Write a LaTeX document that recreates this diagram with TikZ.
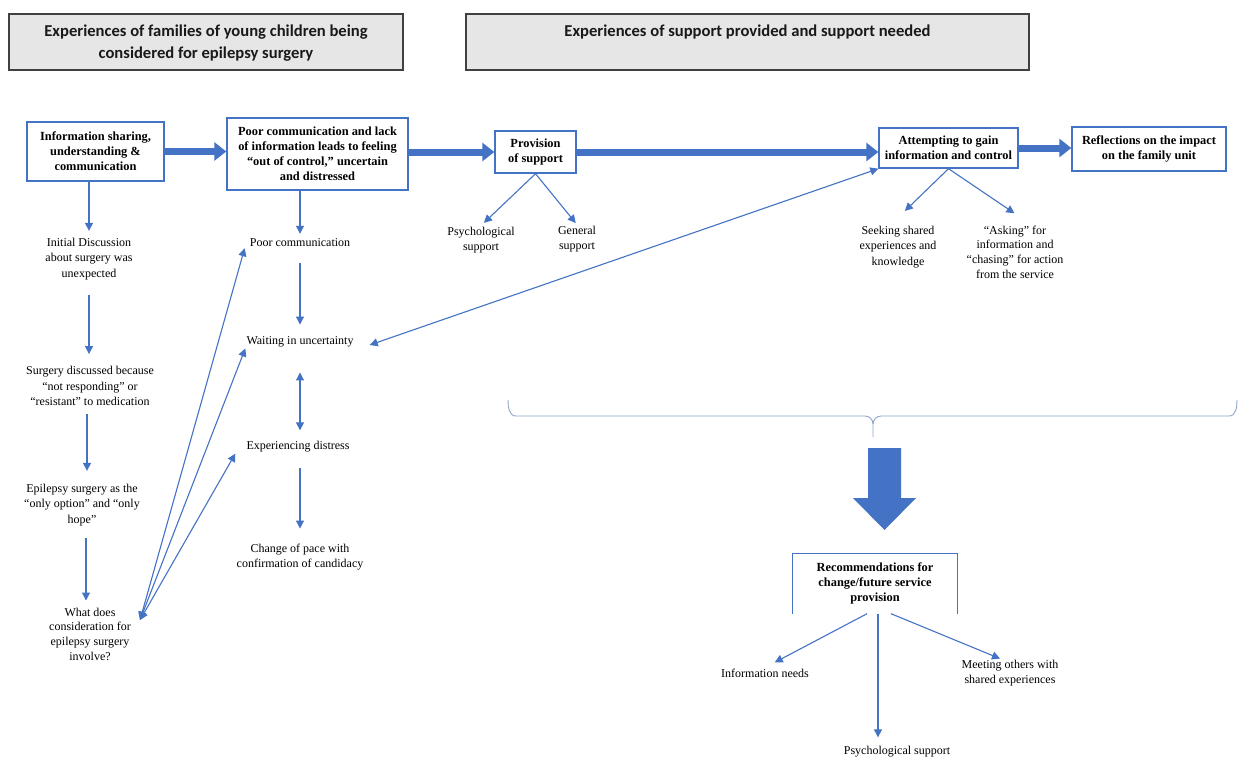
\documentclass[tikz,border=0pt]{standalone}
\usepackage{fontspec}
\setmainfont{Liberation Serif}
\newfontfamily\hdrfont{Carlito}
\usetikzlibrary{arrows.meta}
\definecolor{bblue}{HTML}{4472C4}
\definecolor{brc}{HTML}{8EA6CC}
\definecolor{hgray}{HTML}{E7E6E6}
\definecolor{hedge}{HTML}{404040}
\begin{document}
\begin{tikzpicture}[x=1pt,y=-1pt,
 hdrbox/.style={draw=hedge, line width=1.2pt, fill=hgray, inner sep=0pt},
 hdrtxt/.style={font=\hdrfont\bfseries\fontsize{16.6}{22}\selectfont, align=center, inner sep=0pt, text=black!90},
 bbox/.style={draw=bblue, line width=1.4pt, fill=white, align=center, inner sep=2pt, font=\bfseries\fontsize{12.4}{15}\selectfont},
 txt/.style={align=center, inner sep=1pt, font=\fontsize{12}{15.5}\selectfont},
 fat/.style={draw=bblue, line width=7pt, -{Triangle[length=12pt,width=18pt]}},
 arr/.style={draw=bblue, line width=1.1pt, -{Triangle[length=8pt,width=8pt]}},
 darr/.style={draw=bblue, line width=1.1pt, {Triangle[length=8pt,width=8pt]}-{Triangle[length=8pt,width=8pt]}},
 brace/.style={draw=brc, line width=0.9pt}
]
\fill[white] (0,0) rectangle (1239,758);
\useasboundingbox (0,0) rectangle (1239,758);

% headers
\node[hdrbox, minimum width=394pt, minimum height=56pt] (h1) at (206,42) {};
\node[hdrtxt] (h1t) at (206,43) {Experiences of families of young children being\\considered for epilepsy surgery};
\node[hdrbox, minimum width=563pt, minimum height=56pt] (h2) at (747.5,42) {};
\node[hdrtxt] (h2t) at (747.5,32) {Experiences of support provided and support needed};

% main boxes
\node[bbox, minimum width=137pt, minimum height=59pt] (A) at (95.5,151.5) {Information sharing,\\understanding \&\\communication};
\node[bbox, minimum width=181pt, minimum height=72pt] (B) at (317.5,154) {Poor communication and lack\\of information leads to feeling\\“out of control,” uncertain\\and distressed};
\node[bbox, minimum width=81pt, minimum height=42pt] (C) at (535.5,152) {Provision\\of support};
\node[bbox, minimum width=139pt, minimum height=40pt] (D) at (948.5,148) {Attempting to gain\\information and control};
\node[bbox, minimum width=154pt, minimum height=44pt] (E) at (1149,149) {Reflections on the impact\\on the family unit};

% text nodes
\node[txt] (init) at (89,259) {Initial Discussion\\about surgery was\\unexpected};
\node[txt] (surg) at (90,386) {Surgery discussed because\\“not responding” or\\“resistant” to medication};
\node[txt] (epi) at (82,505) {Epilepsy surgery as the\\“only option” and “only\\hope”};
\node[txt, font=\fontsize{12}{14.7}\selectfont] (what) at (90,634) {What does\\consideration for\\epilepsy surgery\\involve?};
\node[txt] (pc) at (300,243) {Poor communication};
\node[txt] (wait) at (300,342) {Waiting in uncertainty};
\node[txt] (dist) at (298,447) {Experiencing distress};
\node[txt] (chg) at (300,557) {Change of pace with\\confirmation of candidacy};
\node[txt] (psy1) at (481,240) {Psychological\\support};
\node[txt] (gen) at (577,239) {General\\support};
\node[txt] (seek) at (898,247) {Seeking shared\\experiences and\\knowledge};
\node[txt, font=\fontsize{12}{14.7}\selectfont] (ask) at (1015,252) {“Asking” for\\information and\\“chasing” for action\\from the service};
\node[bbox, draw=none, fill=none, minimum width=164pt, minimum height=59pt] (rec) at (875,583.5) {Recommendations for\\change/future service\\provision};
\draw[draw=bblue, line width=1.4pt] (rec.south west) -- (rec.north west) -- (rec.north east) -- (rec.south east);
\node[txt] (info) at (765,673) {Information needs};
\node[txt] (psy2) at (897,752) {Psychological support};
\node[txt] (meet) at (1010,673) {Meeting others with\\shared experiences};

% fat arrows
\draw[fat] (A.east) -- (A.east -| B.west);
\draw[fat] (C.west -| B.east) -- (C.west);
\draw[fat] (C.east) -- (C.east -| D.west);
\draw[fat] (D.east) -- (D.east -| E.west);

% left column
\draw[arr, shorten >=6pt] (init.north |- A.south) -- (init.north);
\draw[arr, shorten <=14pt, shorten >=11pt] (init.south) -- (init.south |- surg.north);
\draw[arr, shorten <=7pt, shorten >=12pt] ([xshift=-3pt]surg.south) -- ([xshift=-3pt]surg.south |- epi.north);
\draw[arr, shorten <=11pt, shorten >=6pt] ([xshift=4pt]epi.south) -- ([xshift=4pt]epi.south |- what.north);

% middle column
\draw[arr, shorten >=4pt] (pc.north |- B.south) -- (pc.north);
\draw[arr, shorten <=15pt, shorten >=11pt] (pc.south) -- (wait.north);
\draw[darr, shorten <=24pt, shorten >=10pt] (wait.south) -- (wait.south |- dist.north);
\draw[arr, shorten <=14pt, shorten >=14pt] (wait.south |- dist.south) -- (wait.south |- chg.north);

% links from "What does..."
\draw[darr] ([shift={(8,-14)}]what.east) -- ([xshift=-4pt]pc.south west);
\draw[darr] ([shift={(8,-14)}]what.east) -- (wait.south west);
\draw[darr] ([shift={(8,-14)}]what.east) -- ([xshift=-10pt]dist.south west);

% long link
\draw[darr] ([shift={(15,3)}]wait.east) -- (D.south west);

% provision of support
\draw[arr, shorten >=4pt] (C.south) -- (psy1.north);
\draw[arr, shorten >=2pt] (C.south) -- (gen.north);

% attempting to gain
\draw[arr, shorten >=20pt] (D.south) -- ([xshift=-7.5pt]seek.north);
\draw[arr, shorten >=20pt] (D.south) -- ([xshift=16pt]ask.north);

% brace
\draw[brace] (508,400) to[out=-90,in=180] (516,416) -- (865,416) to[out=0,in=90] (873,424) -- (873,437);
\draw[brace] (1237,400) to[out=-90,in=0] (1229,416) -- (881,416) to[out=180,in=90] (873,424);

% big arrow
\fill[bblue] (868,448) -- (901,448) -- (901,498) -- (916,498) -- (884.5,530) -- (853,498) -- (868,498) -- cycle;

% recommendations
\draw[arr, shorten >=11pt] ([xshift=-8pt]rec.south) -- (info.north);
\draw[arr, shorten >=8pt] ([xshift=3pt]rec.south) -- ([xshift=3pt]rec.south |- psy2.north);
\draw[arr] ([xshift=16pt]rec.south) -- ([xshift=-10pt]meet.north);
\end{tikzpicture}
\end{document}
